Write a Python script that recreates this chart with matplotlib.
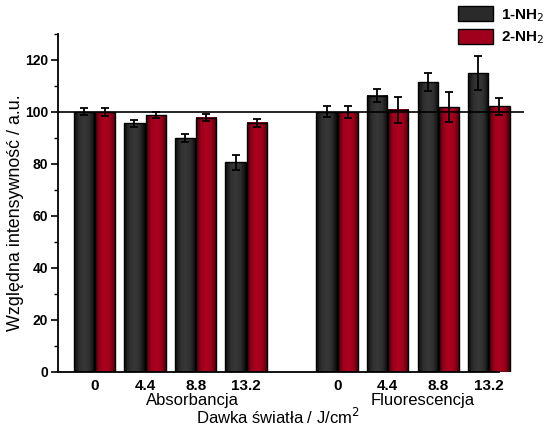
import matplotlib

matplotlib.use("Agg")

import matplotlib.pyplot as plt
import numpy as np
from matplotlib.colors import LinearSegmentedColormap
from matplotlib.patches import Patch

plt.rcParams["font.family"] = ["Liberation Sans", "DejaVu Sans"]

# light dose labels (J/cm^2), two measurement groups
DOSES = ["0", "4.4", "8.8", "13.2"]
GROUPS = ["Absorbancja", "Fluorescencja"]
SERIES = ["1-NH$_2$", "2-NH$_2$"]

# relative intensity, absorbance then fluorescence
ABS_1 = [100.0, 95.5, 90.0, 80.5]
ABS_2 = [100.0, 98.8, 97.7, 95.8]
FLU_1 = [100.0, 106.2, 111.5, 114.8]
FLU_2 = [100.0, 100.8, 101.9, 102.0]
# error bars
ABS_1_ERR = [1.3, 1.3, 1.5, 2.8]
ABS_2_ERR = [1.6, 1.1, 1.4, 1.5]
FLU_1_ERR = [2.1, 2.4, 3.4, 6.6]
FLU_2_ERR = [2.3, 5.0, 5.7, 3.2]

REF_LEVEL = 100

GROUP_GAP = 1.8
WIDTH = 0.4

black_cmap = LinearSegmentedColormap.from_list(
    "blk", ["#0c0c0c", "#2e2e2e", "#383838", "#2e2e2e", "#0a0a0a"])
red_cmap = LinearSegmentedColormap.from_list(
    "red", ["#4a000c", "#9c001c", "#ae0020", "#98001a", "#40000a"])

fig = plt.figure(figsize=(5.44, 4.26), dpi=100)
ax = fig.add_axes([0.1066, 0.1275, 0.857, 0.7934])

x_abs = np.arange(len(DOSES))
x_flu = x_abs + x_abs[-1] + GROUP_GAP
x_all = np.concatenate([x_abs, x_flu])
s1 = ABS_1 + FLU_1
s2 = ABS_2 + FLU_2
e1 = ABS_1_ERR + FLU_1_ERR
e2 = ABS_2_ERR + FLU_2_ERR

# bars with a horizontal shading, like the original's cylinder-ish fill
grad = np.linspace(0, 1, 64).reshape(1, -1)
for off, vals, errs, cmap in ((-0.21, s1, e1, black_cmap), (0.21, s2, e2, red_cmap)):
    bars = ax.bar(x_all + off, vals, WIDTH, facecolor="none",
                  edgecolor="black", linewidth=1.0, zorder=3)
    for b in bars:
        x0 = b.get_x()
        ax.imshow(grad, extent=[x0, x0 + b.get_width(), 0, b.get_height()],
                  aspect="auto", cmap=cmap, zorder=2, interpolation="bicubic")
    ax.errorbar(x_all + off, vals, yerr=errs, fmt="none", ecolor="black",
                elinewidth=1.3, capsize=3, capthick=1.3, zorder=4)

ax.set_xlim(-0.723, 8.5)
ax.set_ylim(0, 130)
ax.axhline(REF_LEVEL, color="black", linewidth=1.2, zorder=5)

ax.spines["top"].set_visible(False)
ax.spines["right"].set_visible(False)
ax.spines["left"].set_linewidth(1.3)
ax.spines["bottom"].set_linewidth(1.3)
ax.spines["bottom"].set_bounds(-0.723, 8.01)

ax.set_yticks(np.arange(0, 121, 20))
ax.set_yticks(np.arange(10, 131, 20), minor=True)
ax.tick_params(axis="y", which="major", direction="out", length=5, width=1.2,
               labelsize=10, pad=2)
ax.tick_params(axis="y", which="minor", direction="out", length=3, width=1.0)
for lbl in ax.get_yticklabels():
    lbl.set_fontweight("bold")

ax.set_xticks(x_all)
ax.set_xticklabels(DOSES + DOSES, fontsize=11, fontweight="bold")
ax.tick_params(axis="x", length=0, pad=5)

xtr = ax.get_xaxis_transform()
ax.text(x_abs.mean() + 0.43, -0.086, GROUPS[0], transform=xtr,
        ha="center", va="center", fontsize=12)
ax.text(x_flu.mean() + 0.19, -0.086, GROUPS[1], transform=xtr,
        ha="center", va="center", fontsize=12)
ax.text(3.63, -0.133, "Dawka światła / J/cm$^2$", transform=xtr,
        ha="center", va="center", fontsize=12)

ax.set_ylabel("Względna intensywność / a.u.", fontsize=12.9)
ax.yaxis.set_label_coords(-0.073, 0.47)

handles = [Patch(facecolor="#2a2a2a", edgecolor="black", linewidth=1.0),
           Patch(facecolor="#a0001c", edgecolor="black", linewidth=1.0)]
leg = fig.legend(handles, SERIES, loc="upper left", bbox_to_anchor=(0.842, 0.985),
                 frameon=False, fontsize=11, handlelength=2.3, handleheight=1.1,
                 handletextpad=0.5, labelspacing=0.35, borderaxespad=0, borderpad=0)
for t in leg.get_texts():
    t.set_fontweight("bold")

fig.savefig("out.png", dpi=100)
